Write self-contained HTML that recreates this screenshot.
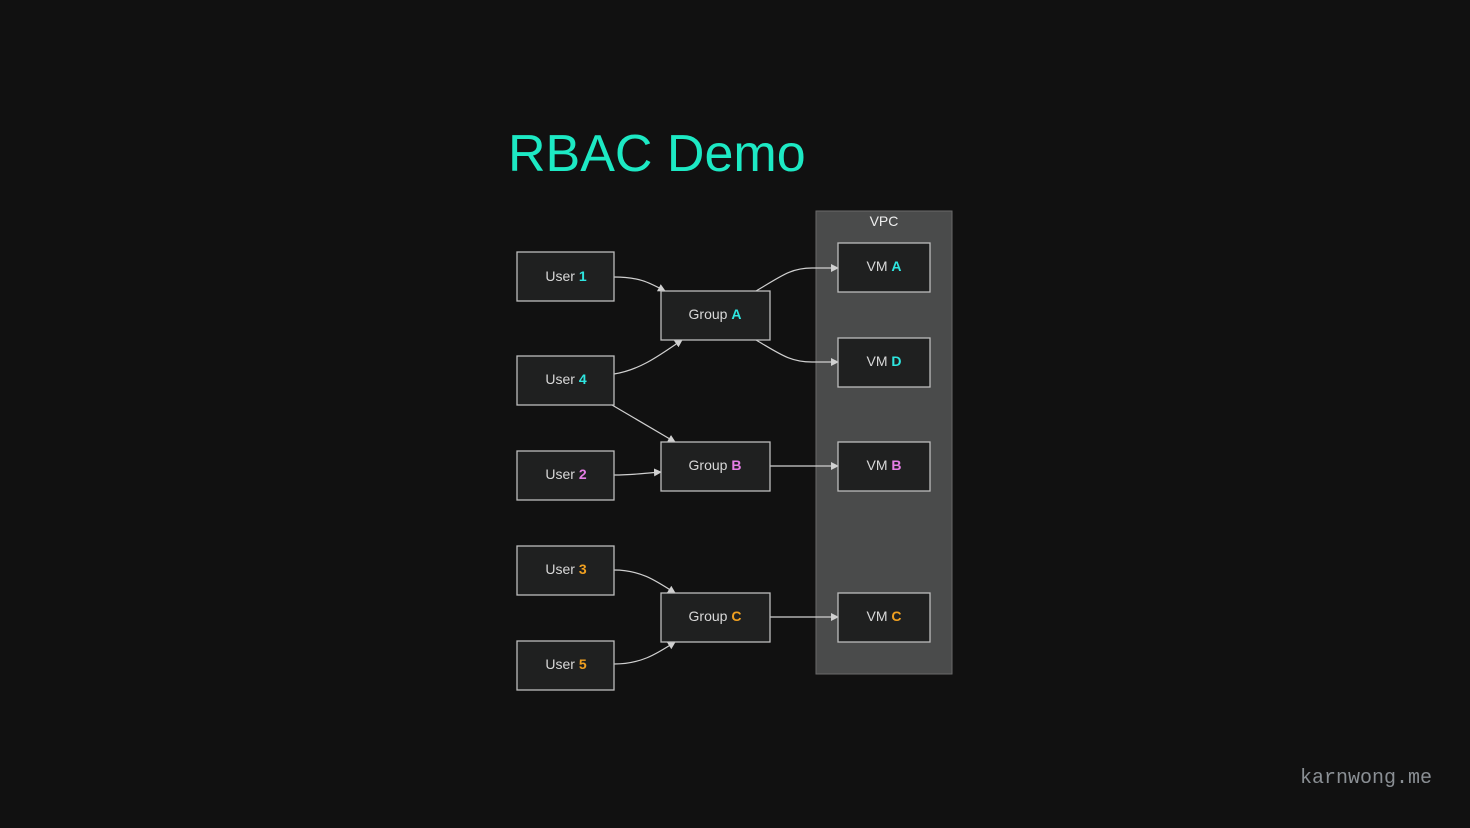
<!DOCTYPE html>
<html><head><meta charset="utf-8"><style>
html,body{margin:0;padding:0;background:#111111;}
svg{display:block}
text{font-family:"Liberation Sans",sans-serif;}
</style></head><body>
<svg width="1470" height="828" viewBox="0 0 1470 828" xmlns="http://www.w3.org/2000/svg">
<defs><marker id="ar" markerWidth="8" markerHeight="8" refX="7" refY="4" orient="auto" markerUnits="userSpaceOnUse"><path d="M0,0 L8,4 L0,8 z" fill="#d0d0d0"/></marker></defs>
<rect width="1470" height="828" fill="#111111"/>
<text x="508" y="171" font-size="52" fill="#1de9c4">RBAC Demo</text>
<rect x="816" y="211" width="136" height="463" fill="#4a4b4b" stroke="#6a6a6a"/>
<text x="884" y="226" font-size="14" fill="#eeeeee" text-anchor="middle">VPC</text>
<g fill="none" stroke="#d0d0d0" stroke-width="1.2">
<path d="M614,277 C640,277 650,283 665,291" marker-end="url(#ar)"/>
<path d="M614,374 C640,370 660,355 682,340" marker-end="url(#ar)"/>
<path d="M612,405 L675,442" marker-end="url(#ar)"/>
<path d="M614,475 C635,475 645,473 661,472" marker-end="url(#ar)"/>
<path d="M614,570 C640,570 655,580 675,593" marker-end="url(#ar)"/>
<path d="M614,664 C640,664 655,655 675,642" marker-end="url(#ar)"/>
<path d="M756,291 C780,277 790,268 812,268 L838,268" marker-end="url(#ar)"/>
<path d="M756,340 C780,354 790,362 812,362 L838,362" marker-end="url(#ar)"/>
<path d="M770,466 L838,466" marker-end="url(#ar)"/>
<path d="M770,617 L838,617" marker-end="url(#ar)"/>
</g>
<g stroke="#bdbdbd" stroke-width="1.3" fill="#1f2020">
<rect x="517" y="252" width="97" height="49"/>
<rect x="517" y="356" width="97" height="49"/>
<rect x="517" y="451" width="97" height="49"/>
<rect x="517" y="546" width="97" height="49"/>
<rect x="517" y="641" width="97" height="49"/>
<rect x="661" y="291" width="109" height="49"/>
<rect x="661" y="442" width="109" height="49"/>
<rect x="661" y="593" width="109" height="49"/>
<rect x="838" y="243" width="92" height="49"/>
<rect x="838" y="338" width="92" height="49"/>
<rect x="838" y="442" width="92" height="49"/>
<rect x="838" y="593" width="92" height="49"/>
</g>
<g font-size="14" fill="#d8d8d8" text-anchor="middle">
<text x="566" y="281">User <tspan fill="#2ee6e0" font-weight="bold">1</tspan></text>
<text x="566" y="384">User <tspan fill="#2ee6e0" font-weight="bold">4</tspan></text>
<text x="566" y="479">User <tspan fill="#e67ee6" font-weight="bold">2</tspan></text>
<text x="566" y="574">User <tspan fill="#f0a020" font-weight="bold">3</tspan></text>
<text x="566" y="669">User <tspan fill="#f0a020" font-weight="bold">5</tspan></text>
<text x="715" y="319">Group <tspan fill="#2ee6e0" font-weight="bold">A</tspan></text>
<text x="715" y="470">Group <tspan fill="#e67ee6" font-weight="bold">B</tspan></text>
<text x="715" y="621">Group <tspan fill="#f0a020" font-weight="bold">C</tspan></text>
<text x="884" y="271">VM <tspan fill="#2ee6e0" font-weight="bold">A</tspan></text>
<text x="884" y="366">VM <tspan fill="#2ee6e0" font-weight="bold">D</tspan></text>
<text x="884" y="470">VM <tspan fill="#e67ee6" font-weight="bold">B</tspan></text>
<text x="884" y="621">VM <tspan fill="#f0a020" font-weight="bold">C</tspan></text>
</g>
<text x="1432" y="783" font-size="20" fill="#8a8f94" text-anchor="end" style="font-family:'Liberation Mono',monospace">karnwong.me</text>
</svg>
</body></html>
